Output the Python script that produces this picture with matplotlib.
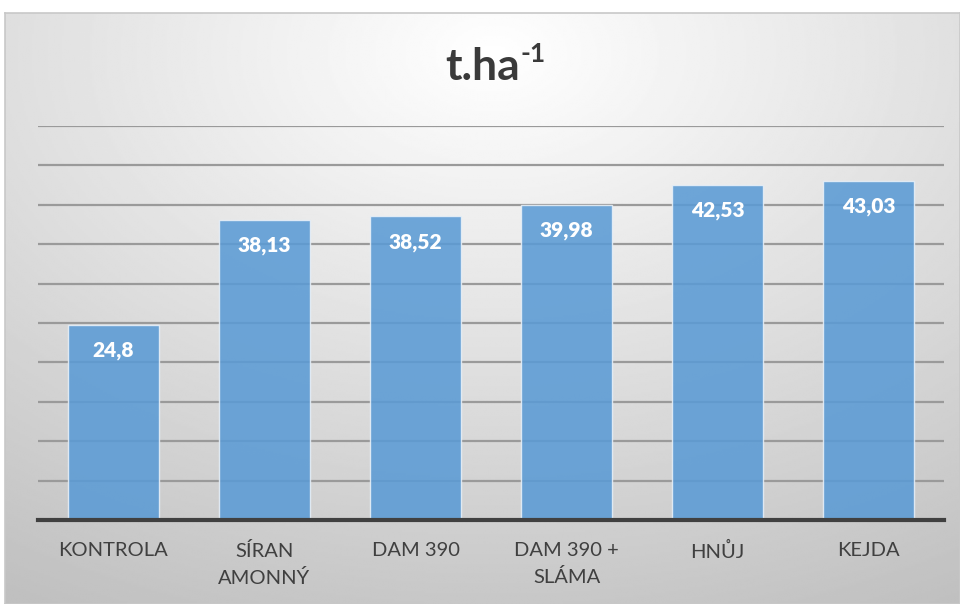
import numpy as np
import matplotlib
matplotlib.use("Agg")
import matplotlib.pyplot as plt

categories = ["KONTROLA", "SÍRAN\nAMONNÝ", "DAM 390", "DAM 390 +\nSLÁMA", "HNŮJ", "KEJDA"]
values = [24.8, 38.13, 38.52, 39.98, 42.53, 43.03]

plt.rcParams["font.family"] = ["Lato", "DejaVu Sans"]

W, H = 960, 604
fig = plt.figure(figsize=(W / 100, H / 100), dpi=100)
fig.patch.set_facecolor("white")

# background panel with soft radial gradient
bg = fig.add_axes([5 / W, 0, 955 / W, 591 / H])
yy, xx = np.mgrid[0:300, 0:480]
cx, cy = 245, 20
r = np.sqrt(((xx - cx) / 480) ** 2 + ((yy - cy) / 320) ** 2)
shade = 1.0 - 0.25 * np.clip(r, 0, 1)
bg.imshow(shade, cmap="gray", vmin=0, vmax=1, aspect="auto", interpolation="bilinear")
bg.set_xticks([])
bg.set_yticks([])
for s in bg.spines.values():
    s.set_color("#c8c8c8")
    s.set_linewidth(1.2)

ax = fig.add_axes([38 / W, (H - 520) / H, 906 / W, 394 / H])
ax.patch.set_alpha(0)
x = np.arange(len(categories))
ax.set_xlim(-0.5, len(categories) - 0.5)
ax.set_ylim(0, 50)
ax.set_yticks(np.arange(5, 55, 5))
ax.yaxis.grid(True, color="#9a9a9a", linewidth=1.6)
ax.set_axisbelow(True)

bars = ax.bar(x, values, width=0.6, color="#5b9bd5", alpha=0.88,
              edgecolor="#e8f0f8", linewidth=1.0, zorder=2)

for xi, v in zip(x, values):
    lab = f"{v:g}".replace(".", ",")
    ax.annotate(lab, (xi, v), xytext=(0, -26), textcoords="offset pixels",
                ha="center", va="center", color="white", fontsize=15,
                fontweight="heavy", zorder=3)

for s in ["top", "right", "left"]:
    ax.spines[s].set_visible(False)
ax.spines["bottom"].set_color("#404040")
ax.spines["bottom"].set_linewidth(3)
ax.spines["bottom"].set_zorder(4)
ax.tick_params(axis="y", left=False, labelleft=False)
ax.tick_params(axis="x", bottom=False, pad=12)
ax.set_xticks(x)
ax.set_xticklabels(categories, fontsize=14.5, color="#404040", linespacing=1.65, va="top")

# title with superscript
fig.text(520 / W, 1 - 80 / H, "t.ha", ha="right", va="baseline",
         fontsize=32, fontweight="bold", color="#3a3a3a")
fig.text(520 / W, 1 - 62 / H, "-1", ha="left", va="baseline",
         fontsize=19, fontweight="bold", color="#3a3a3a")

fig.savefig("out.png", dpi=100)
